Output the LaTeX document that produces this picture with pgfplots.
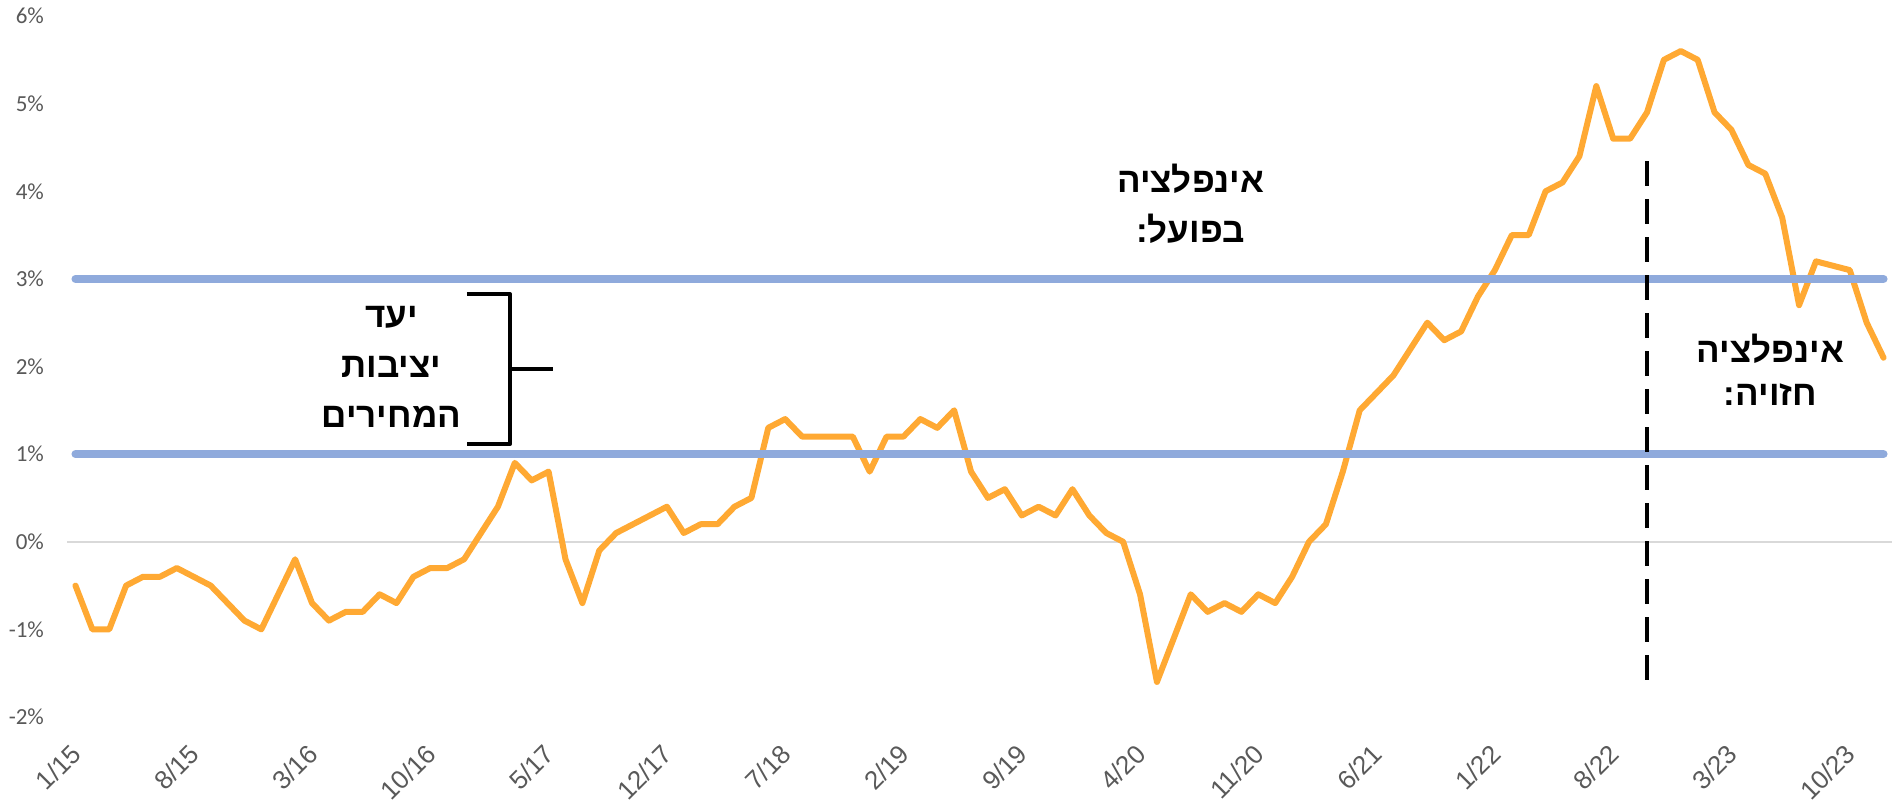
\documentclass[border=0pt]{standalone}
\usepackage{pgfplots}
\usepackage{pgfplotstable}
\pgfplotsset{compat=1.18}
\usepackage{fontspec}
\setmainfont{Liberation Sans}
\newfontfamily\hebfont[Script=Hebrew]{Liberation Sans}
\newfontfamily\ylabfont{Carlito}
\TeXXeTstate=1

\definecolor{infl}{RGB}{255,169,51}
\definecolor{band}{RGB}{143,170,220}
\definecolor{ticktext}{RGB}{89,89,89}
\definecolor{zeroline}{RGB}{217,217,217}

\newcommand{\heb}[1]{{\hebfont\bfseries\fontsize{17.5}{20}\selectfont\beginR #1\endR}}

% monthly inflation, 1/15 = 0 ... 12/23 = 107
\pgfplotstableread{
i v
0 -0.5
1 -1.0
2 -1.0
3 -0.5
4 -0.4
5 -0.4
6 -0.3
7 -0.4
8 -0.5
9 -0.7
10 -0.9
11 -1.0
12 -0.6
13 -0.2
14 -0.7
15 -0.9
16 -0.8
17 -0.8
18 -0.6
19 -0.7
20 -0.4
21 -0.3
22 -0.3
23 -0.2
24 0.1
25 0.4
26 0.9
27 0.7
28 0.8
29 -0.2
30 -0.7
31 -0.1
32 0.1
33 0.2
34 0.3
35 0.4
36 0.1
37 0.2
38 0.2
39 0.4
40 0.5
41 1.3
42 1.4
43 1.2
44 1.2
45 1.2
46 1.2
47 0.8
48 1.2
49 1.2
50 1.4
51 1.3
52 1.5
53 0.8
54 0.5
55 0.6
56 0.3
57 0.4
58 0.3
59 0.6
60 0.3
61 0.1
62 0.0
63 -0.6
64 -1.6
65 -1.1
66 -0.6
67 -0.8
68 -0.7
69 -0.8
70 -0.6
71 -0.7
72 -0.4
73 0.0
74 0.2
75 0.8
76 1.5
77 1.7
78 1.9
79 2.2
80 2.5
81 2.3
82 2.4
83 2.8
84 3.1
85 3.5
86 3.5
87 4.0
88 4.1
89 4.4
90 5.2
91 4.6
92 4.6
93 4.9
94 5.5
95 5.6
96 5.5
97 4.9
98 4.7
99 4.3
100 4.2
101 3.7
102 2.7
103 3.2
104 3.15
105 3.1
106 2.5
107 2.1
}\inflation

\begin{document}
\begin{tikzpicture}
\begin{axis}[
    at={(33.5pt,44.5pt)}, anchor=south west,
    width=912.5pt, height=350.5pt, scale only axis,
    xmin=-0.5, xmax=107.5, ymin=-2, ymax=6,
    axis line style={draw=none},
    major tick style={draw=none},
    xtick={0,7,...,105},
    xticklabels={1/15,8/15,3/16,10/16,5/17,12/17,7/18,2/19,9/19,4/20,11/20,6/21,1/22,8/22,3/23,10/23},
    ytick={-2,-1,...,6},
    yticklabels={-2\%,-1\%,0\%,1\%,2\%,3\%,4\%,5\%,6\%},
    xticklabel style={font=\fontsize{13}{14}\selectfont, text=ticktext,
                      xshift=-3pt, yshift=-12.5pt,
                      rotate=45, anchor=north east, inner sep=0pt},
    yticklabel style={font=\ylabfont\fontsize{11.5}{12}\selectfont, text=ticktext,
                      xshift=-8pt},
    clip=false,
  ]
\draw[zeroline, line width=1pt] (axis cs:-0.5,0) -- (axis cs:107.5,0);

\addplot[infl, line width=3pt, line join=round, line cap=round] table[x=i, y=v] {\inflation};

% target band 1%-3%
\addplot[band, line width=4pt, line cap=round] coordinates {(0,3) (107,3)};
\addplot[band, line width=4pt, line cap=round] coordinates {(0,1) (107,1)};

% actual / forecast split
\addplot[black, line width=2.4pt, dash pattern=on 12.5pt off 6.5pt] coordinates {(93,4.34) (93,-1.73)};

% bracket
\draw[black, line width=2pt, line join=round]
  (axis cs:23.17,2.825) -- (axis cs:25.71,2.825) -- (axis cs:25.71,1.113) -- (axis cs:23.17,1.113);
\draw[black, line width=2pt] (axis cs:25.71,1.971) -- (axis cs:28.26,1.971);

\node[anchor=base] at (axis cs:18.7,2.45) {\heb{יעד}};
\node[anchor=base] at (axis cs:18.7,1.87) {\heb{יציבות}};
\node[anchor=base] at (axis cs:18.7,1.30) {\heb{המחירים}};

\node[anchor=base] at (axis cs:66.0,3.99) {\heb{אינפלציה}};
\node[anchor=base] at (axis cs:66.0,3.42) {\heb{בפועל:}};

\node[anchor=base] at (axis cs:100.3,2.05) {\heb{אינפלציה}};
\node[anchor=base] at (axis cs:100.3,1.56) {\heb{חזויה:}};
\end{axis}
\pgfresetboundingbox
\path[use as bounding box] (0,0) rectangle (947.5pt,403pt);
\end{tikzpicture}
\end{document}
